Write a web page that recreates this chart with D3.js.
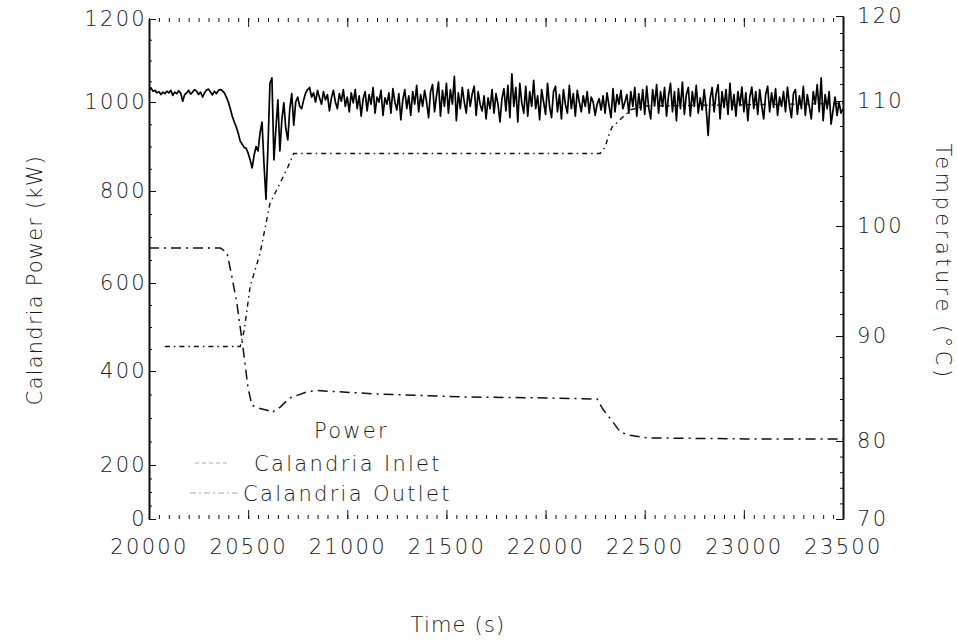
<!DOCTYPE html>
<html>
<head>
<meta charset="utf-8">
<script src="https://cdn.jsdelivr.net/npm/d3@7"></script>
<style>
  html, body { margin: 0; padding: 0; background: #fff; }
  svg text { font-family: "DejaVu Sans", sans-serif; font-weight: 200; fill: #1a1a1a; }
</style>
</head>
<body>
<div id="chart"></div>
<script>
// ---- data ----
const timeTicks = [20000, 20500, 21000, 21500, 22000, 22500, 23000, 23500];
const powerTicks = [0, 200, 400, 600, 800, 1000, 1200];
const tempTicks = [70, 80, 90, 100, 110, 120];

// calandria power, one sample every 10 s from 20000 s
const powerStart = 20000;
const powerStep = 10;
const powerKW = [
  1030,1034,1026,1028,1022,1025,1018,1024,1020,1026,1022,1028,1016,1024,1020,1027,1021,1002,1018,1022,
  1028,1019,1024,1030,1026,1018,1024,1012,1022,1029,1031,1024,1017,1026,1020,1028,1030,1027,1022,1012,
  1000,985,968,955,944,930,912,905,898,896,885,870,852,880,900,890,930,955,860,782,
  900,1045,1058,870,940,1005,890,960,998,940,915,985,1020,948,1000,1012,990,985,1005,1022,
  1030,1035,1012,1022,1000,1028,1010,995,1025,1005,1018,980,1010,1028,1000,985,1020,1002,1030,990,
  1012,978,1022,998,1030,985,1015,968,1008,1025,980,1018,995,1035,975,1012,1000,1028,970,1010,
  995,1022,975,1032,1000,982,1020,960,1005,1030,985,1015,970,1025,995,1040,978,1018,990,1028,
  1000,965,1025,1042,978,1015,1048,968,1028,990,1045,975,1030,995,1062,958,1022,985,1035,1000,
  975,1030,990,1020,1038,970,1025,995,980,1015,962,1010,985,1030,975,1020,995,955,1008,1032,
  980,1040,965,1068,990,1035,955,1045,998,975,1038,968,1025,990,1052,985,1015,960,1030,1000,
  972,1045,990,965,1025,1038,978,1018,962,1030,995,975,1040,985,1020,968,1028,1000,978,1015,
  990,1025,975,1012,1000,970,995,1008,982,1015,975,1022,992,965,1032,978,1018,995,1028,985,
  1000,1018,975,1025,990,1035,968,1020,982,1030,972,1038,988,962,1030,992,1042,975,1025,990,
  1035,968,1015,1045,978,1025,958,1032,985,1048,972,1018,1035,968,1025,990,1040,975,1010,982,
  1030,985,925,1008,1035,978,1020,1042,962,1025,988,1030,972,1045,982,1018,968,1025,992,1036,
  978,1022,958,1012,1036,985,1025,972,1030,992,962,1018,1038,978,1022,988,1032,970,1012,990,
  1025,978,1036,992,965,1020,1030,972,1015,985,1038,970,1018,990,962,1025,995,1042,978,1058,
  958,1018,985,1025,950,982,1012,970,1000,975,985
];

// calandria inlet temperature
const inletTimes = [20080, 20250, 20460, 20480, 20510, 20560, 20610, 20660, 20700, 20730,
  21200, 21800, 22275, 22300, 22315, 22335, 22375, 22430, 22500, 23500];
const inletTemp = [89.0, 89.0, 89.0, 90.5, 94.5, 97.5, 101.8, 103.4, 104.7, 105.8,
  105.8, 105.8, 105.8, 106.3, 107.1, 107.9, 108.5, 109.3, 109.6, 109.8];

// calandria outlet temperature
const outletTimes = [20000, 20360, 20393, 20418, 20443, 20469, 20484, 20499, 20519, 20560,
  20600, 20620, 20640, 20660, 20710, 20800, 20850, 21130, 21570, 22000,
  22260, 22290, 22340, 22375, 22410, 22510, 23000, 23500];
const outletTemp = [98.0, 98.0, 97.6, 95.4, 93.0, 89.6, 87.4, 85.1, 83.4, 83.1,
  82.9, 82.7, 83.0, 83.2, 84.1, 84.7, 84.8, 84.5, 84.2, 84.1,
  84.0, 83.0, 81.8, 80.9, 80.6, 80.3, 80.2, 80.2];

const legendLabels = ['Power', 'Calandria Inlet', 'Calandria Outlet'];

// ---- chart ----
const width = 957, height = 643;
const plotLeft = 149, plotRight = 843, plotTop = 18, plotBottom = 519;
const fontSize = 21;

const svg = d3.select('#chart').append('svg')
  .attr('width', width)
  .attr('height', height);

const x = d3.scaleLinear().domain([20000, 23500]).range([plotLeft, plotRight]);
// the scanned axes are not evenly spaced, so follow where each label sits
const yPower = d3.scaleLinear().domain(powerTicks).range([plotBottom, 465, 371, 283, 191, 102, plotTop + 1]);
const yTemp = d3.scaleLinear().domain(tempTicks).range([plotBottom, 441, 336, 226, 101, plotTop - 2]);

const styleAxis = g => {
  g.selectAll('.tick line').attr('stroke', '#111').attr('stroke-width', 1);
  g.selectAll('.domain').attr('stroke', '#111').attr('stroke-width', 1.6);
  g.selectAll('text').attr('font-size', fontSize).style('letter-spacing', '2.3px');
};

// bottom axis
svg.append('g')
  .attr('transform', `translate(0,${plotBottom})`)
  .call(d3.axisBottom(x).tickValues(d3.range(20000, 23501, 50)).tickSize(-4).tickFormat(''))
  .call(g => g.select('.domain').remove())
  .call(styleAxis);
svg.append('g')
  .attr('transform', `translate(0,${plotBottom})`)
  .call(d3.axisBottom(x).tickValues(timeTicks).tickSize(-9).tickPadding(20).tickFormat(d3.format('d')))
  .call(g => g.select('.domain').remove())
  .call(styleAxis);

// top axis (ticks only)
svg.append('g')
  .attr('transform', `translate(0,${plotTop})`)
  .call(d3.axisTop(x).tickValues(d3.range(20000, 23501, 50)).tickSize(-4).tickFormat(''))
  .call(g => g.select('.domain').remove())
  .call(styleAxis);
svg.append('g')
  .attr('transform', `translate(0,${plotTop})`)
  .call(d3.axisTop(x).tickValues(timeTicks).tickSize(-9).tickFormat(''))
  .call(g => g.select('.domain').remove())
  .call(styleAxis);

// left axis
svg.append('g')
  .attr('transform', `translate(${plotLeft},0)`)
  .call(d3.axisLeft(yPower).tickValues(d3.range(0, 1201, 50)).tickSize(-3).tickSizeOuter(0).tickFormat(''))
  .call(styleAxis);
svg.append('g')
  .attr('transform', `translate(${plotLeft},0)`)
  .call(d3.axisLeft(yPower).tickValues(powerTicks).tickSize(-7).tickSizeOuter(0).tickPadding(2).tickFormat(d3.format('d')))
  .call(styleAxis);

// right axis
svg.append('g')
  .attr('transform', `translate(${plotRight},0)`)
  .call(d3.axisRight(yTemp).tickValues(d3.range(70, 121, 2)).tickSize(-3).tickSizeOuter(0).tickFormat(''))
  .call(styleAxis);
svg.append('g')
  .attr('transform', `translate(${plotRight},0)`)
  .call(d3.axisRight(yTemp).tickValues(tempTicks).tickSize(-7).tickSizeOuter(0).tickPadding(14).tickFormat(d3.format('d')))
  .call(styleAxis);

// axis titles
svg.append('text')
  .attr('transform', 'translate(42,280) rotate(-90)')
  .attr('text-anchor', 'middle')
  .attr('font-size', fontSize)
  .style('letter-spacing', '1.2px')
  .text('Calandria Power (kW)');

svg.append('text')
  .attr('transform', 'translate(936,262) rotate(90)')
  .attr('text-anchor', 'middle')
  .attr('font-size', fontSize)
  .style('letter-spacing', '3.5px')
  .text('Temperature (°C)');

svg.append('text')
  .attr('x', 458)
  .attr('y', 632)
  .attr('text-anchor', 'middle')
  .attr('font-size', fontSize)
  .style('letter-spacing', '1.2px')
  .text('Time (s)');

// series
svg.append('defs').append('clipPath').attr('id', 'plot-clip')
  .append('rect')
  .attr('x', plotLeft).attr('y', plotTop - 2)
  .attr('width', plotRight - plotLeft).attr('height', plotBottom - plotTop + 2);

const plot = svg.append('g').attr('clip-path', 'url(#plot-clip)');

plot.append('path')
  .datum(outletTemp)
  .attr('fill', 'none')
  .attr('stroke', '#111')
  .attr('stroke-width', 1.5)
  .attr('stroke-dasharray', '10,5,2,5')
  .attr('d', d3.line().x((d, i) => x(outletTimes[i])).y(d => yTemp(d)));

plot.append('path')
  .datum(inletTemp)
  .attr('fill', 'none')
  .attr('stroke', '#111')
  .attr('stroke-width', 1.4)
  .attr('stroke-dasharray', '5,4,1.5,4')
  .attr('d', d3.line().x((d, i) => x(inletTimes[i])).y(d => yTemp(d)));

plot.append('path')
  .datum(powerKW)
  .attr('fill', 'none')
  .attr('stroke', '#000')
  .attr('stroke-width', 1.7)
  .attr('stroke-linejoin', 'round')
  .attr('d', d3.line().x((d, i) => x(powerStart + i * powerStep)).y(d => yPower(d)));

// legend
const legend = svg.append('g');
const legendRows = [
  { label: legendLabels[0], tx: 314, ty: 438, x1: null, x2: null, dash: null },
  { label: legendLabels[1], tx: 254, ty: 471, x1: 195, x2: 228, dash: '4,3' },
  { label: legendLabels[2], tx: 243, ty: 501, x1: 190, x2: 240, dash: '6,3,2,3' }
];
legendRows.forEach(r => {
  if (r.x1 !== null) {
    legend.append('line')
      .attr('x1', r.x1).attr('x2', r.x2)
      .attr('y1', r.ty - 8).attr('y2', r.ty - 8)
      .attr('stroke', '#aaa')
      .attr('stroke-width', 1)
      .attr('stroke-dasharray', r.dash);
  }
  legend.append('text')
    .attr('x', r.tx)
    .attr('y', r.ty)
    .attr('font-size', fontSize)
    .style('letter-spacing', '2.3px')
    .text(r.label);
});
</script>
</body>
</html>
